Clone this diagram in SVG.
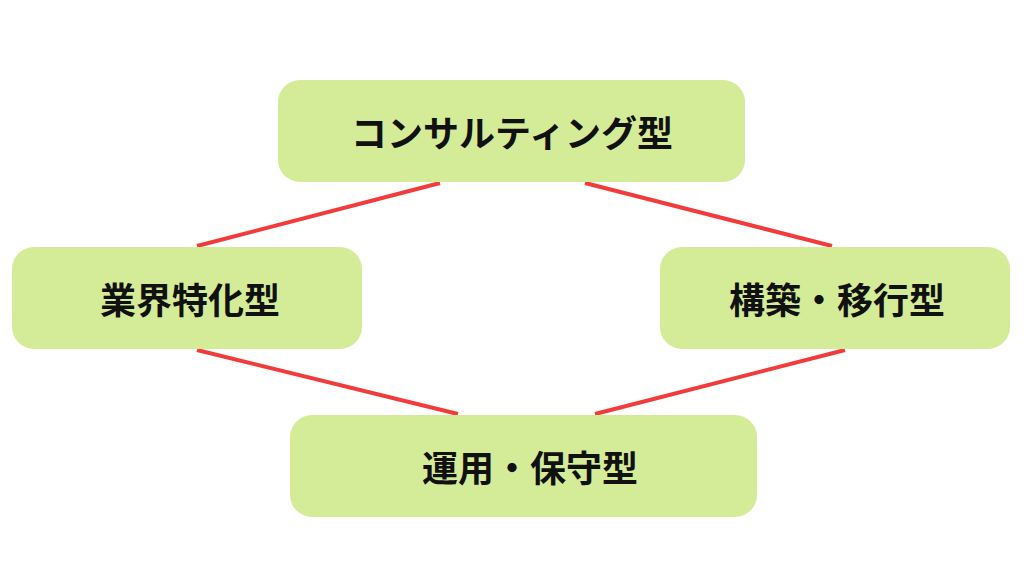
<svg xmlns="http://www.w3.org/2000/svg" width="1024" height="576" viewBox="0 0 1024 576">
<style>
.box{fill:#d4ec98}
.t{font-family:"Noto Sans CJK JP","Noto Sans",sans-serif;font-weight:bold;font-size:36px;fill:#111;text-anchor:middle;dominant-baseline:central}
.c{stroke:#f23b3b;stroke-width:4;fill:none}
</style>
<rect width="1024" height="576" fill="#fff"/>
<g id="connectors">
<line class="c" x1="440" y1="183" x2="197" y2="246"/>
<line class="c" x1="585" y1="183" x2="832" y2="246"/>
<line class="c" x1="197" y1="350" x2="458" y2="414"/>
<line class="c" x1="845" y1="350" x2="595" y2="414"/>
</g>
<g id="top"><rect class="box" x="278" y="80" width="467" height="102" rx="22"/><text class="t" x="512" y="131">コンサルティング型</text></g>
<g id="left"><rect class="box" x="12" y="247" width="350" height="102" rx="22"/><text class="t" x="190" y="298">業界特化型</text></g>
<g id="right"><rect class="box" x="660" y="247" width="350" height="102" rx="22"/><text class="t" x="837" y="298">構築・移行型</text></g>
<g id="bottom"><rect class="box" x="290" y="415" width="467" height="102" rx="22"/><text class="t" x="530" y="466">運用・保守型</text></g>
</svg>
